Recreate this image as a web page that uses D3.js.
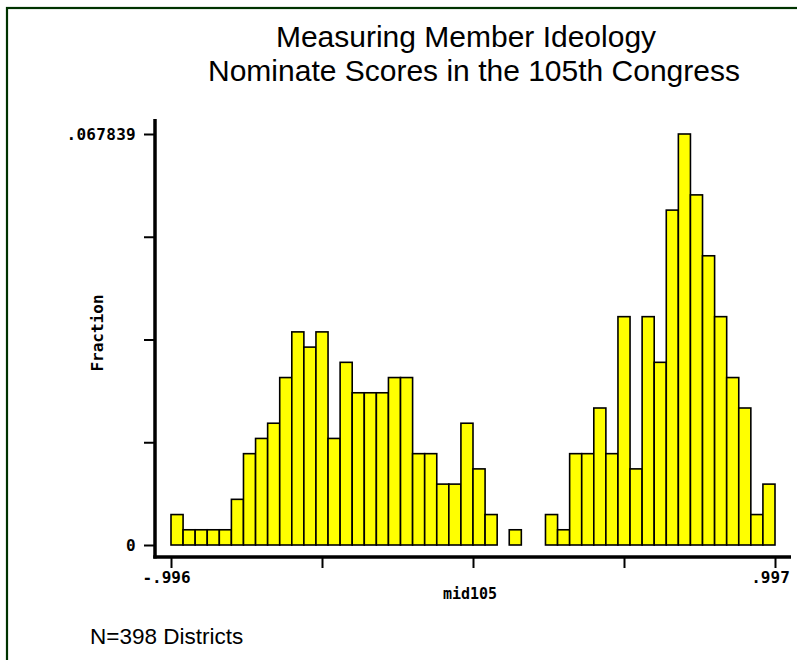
<!DOCTYPE html>
<html>
<head>
<meta charset="utf-8">
<script src="https://cdn.jsdelivr.net/npm/d3@7"></script>
<style>
  html, body { margin: 0; padding: 0; background: #fff; }
  svg { display: block; }
</style>
</head>
<body>
<svg id="chart" width="797" height="660"></svg>
<script>
// ---- data ----
const titleLines = ["Measuring Member Ideology", "Nominate Scores in the 105th Congress"];
const xLabel = "mid105";
const yLabel = "Fraction";
const note = "N=398 Districts";
const nObs = 398;
const xMin = -0.996;
const xMax = 0.997;
// counts per bin (50 equal-width bins from xMin to xMax)
const binCounts = [
  2, 1, 1, 1, 1, 3, 6, 7, 8, 11,
  14, 13, 14, 7, 12, 10, 10, 10, 11, 11,
  6, 6, 4, 4, 8, 5, 2, 0, 1, 0,
  0, 2, 1, 6, 6, 9, 6, 15, 5, 15,
  12, 22, 27, 23, 19, 15, 11, 9, 2, 4
];
const xTickLabels = ["-.996", "", "", "", ".997"];
const yTickLabels = ["0", "", "", "", ".067839"];

// ---- layout ----
const svg = d3.select("#chart");
const plot = { left: 171, right: 775, top: 134, bottom: 545 };
const axisX = 155;   // y axis line position
const axisY = 557;   // x axis line position
const monoFont = "'DejaVu Sans Mono', monospace";

const nb = binCounts.length;
const binW = (xMax - xMin) / nb;
const bins = binCounts.map((c, i) => ({ x0: xMin + i * binW, x1: xMin + (i + 1) * binW, frac: c / nObs }));
const yMax = d3.max(bins, d => d.frac);

const x = d3.scaleLinear().domain([xMin, xMax]).range([plot.left, plot.right]);
const y = d3.scaleLinear().domain([0, yMax]).range([plot.bottom, plot.top]);

// frame (top & left visible)
svg.append("rect")
  .attr("x", 7).attr("y", 8)
  .attr("width", 820).attr("height", 700)
  .attr("fill", "none").attr("stroke", "#003300").attr("stroke-width", 2.2);

// title
const titleX = [466, 474];
svg.append("g").selectAll("text").data(titleLines).join("text")
  .attr("x", (d, i) => titleX[i]).attr("y", (d, i) => 47 + i * 34)
  .attr("text-anchor", "middle")
  .attr("font-family", "'Liberation Sans', Arial, sans-serif")
  .attr("font-size", 30)
  .attr("fill", "#000")
  .text(d => d);

// bars
svg.append("g").selectAll("rect").data(bins.filter(b => b.frac > 0)).join("rect")
  .attr("x", d => x(d.x0))
  .attr("y", d => y(d.frac))
  .attr("width", d => x(d.x1) - x(d.x0))
  .attr("height", d => y(0) - y(d.frac))
  .attr("fill", "#ffff00")
  .attr("stroke", "#000")
  .attr("stroke-width", 1.6);

// axes lines
svg.append("line").attr("x1", axisX).attr("x2", axisX).attr("y1", 119).attr("y2", axisY + 1.5)
  .attr("stroke", "#000").attr("stroke-width", 3.5);
svg.append("line").attr("x1", axisX - 1.75).attr("x2", 791).attr("y1", axisY).attr("y2", axisY)
  .attr("stroke", "#000").attr("stroke-width", 3.5);

// y axis ticks
const yTickVals = d3.range(5).map(i => yMax * i / 4);
const yAxis = d3.axisLeft(y).tickValues(yTickVals).tickSize(11).tickSizeOuter(0).tickPadding(8)
  .tickFormat((d, i) => yTickLabels[i]);
const gy = svg.append("g").attr("transform", `translate(${axisX},0)`).call(yAxis);
gy.select(".domain").remove();
gy.selectAll(".tick line").attr("stroke", "#000").attr("stroke-width", 2);
gy.selectAll(".tick text").attr("font-family", monoFont).attr("font-size", 16)
  .attr("font-weight", "bold").attr("letter-spacing", 0.3).attr("fill", "#000");

// x axis ticks
const xTickVals = d3.range(5).map(i => xMin + (xMax - xMin) * i / 4);
const xAxis = d3.axisBottom(x).tickValues(xTickVals).tickSize(11).tickSizeOuter(0).tickPadding(4)
  .tickFormat((d, i) => xTickLabels[i]);
const gx = svg.append("g").attr("transform", `translate(0,${axisY})`).call(xAxis);
gx.select(".domain").remove();
gx.selectAll(".tick line").attr("stroke", "#000").attr("stroke-width", 2);
gx.selectAll(".tick text").attr("font-family", monoFont).attr("font-size", 16)
  .attr("font-weight", "bold").attr("dx", -5).attr("fill", "#000");

// axis titles
svg.append("text")
  .attr("x", (plot.left + plot.right) / 2 - 3).attr("y", 599)
  .attr("text-anchor", "middle")
  .attr("font-family", monoFont).attr("font-size", 15).attr("font-weight", "bold")
  .text(xLabel);
svg.append("text")
  .attr("transform", `translate(103, 333) rotate(-90)`)
  .attr("text-anchor", "middle")
  .attr("font-family", monoFont).attr("font-size", 16).attr("font-weight", "bold")
  .text(yLabel);

// note
svg.append("text")
  .attr("x", 90).attr("y", 644)
  .attr("font-family", "'Liberation Sans', Arial, sans-serif")
  .attr("font-size", 22.5)
  .text(note);
</script>
</body>
</html>
